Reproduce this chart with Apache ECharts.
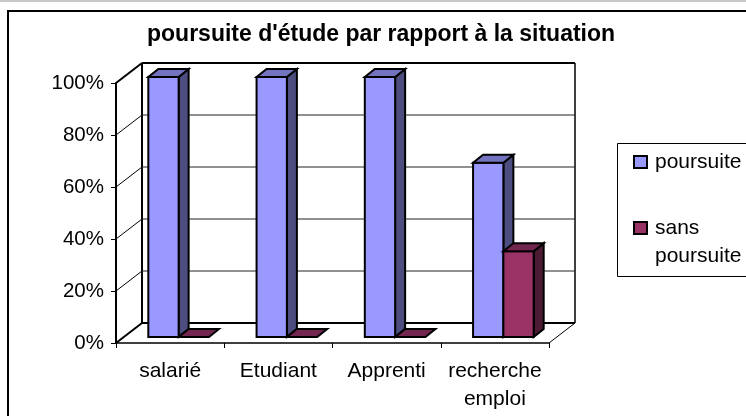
<!DOCTYPE html>
<html>
<head>
<meta charset="utf-8">
<style>
  html, body { margin: 0; padding: 0; background: #fff; }
  #main { width: 746px; height: 416px; }
</style>
</head>
<body>
<div id="main"></div>
<script src="https://cdn.jsdelivr.net/npm/echarts@6/dist/echarts.min.js"></script>
<script>
const categories = ['salarié', 'Etudiant', 'Apprenti', 'recherche\nemploi'];
const poursuite = [100, 100, 100, 67];
const sansPoursuite = [0, 0, 0, 33];
const yTicks = [0, 20, 40, 60, 80, 100];
const seriesNames = ['poursuite', 'sans poursuite'];
const titleText = "poursuite d'étude par rapport à la situation";

// depth of the fake 3D box and of the bars inside it
const wallDx = 26, wallDy = -20;
const barDx = 10, barDy = -8;
const barOffX = 9, barOffY = -6;
const font = '"Liberation Sans", Arial, sans-serif';

function poly(points, fill, lw) {
  return {
    type: 'polygon',
    shape: { points: points },
    style: { fill: fill, stroke: '#000', lineWidth: lw || 2 }
  };
}

function seg(x1, y1, x2, y2, color, lw) {
  return {
    type: 'line',
    shape: { x1: x1, y1: y1, x2: x2, y2: y2 },
    style: { stroke: color, lineWidth: lw, fill: null }
  };
}

// one 3D bar, idx 0 = left of the pair, 1 = right of the pair
function barRenderer(idx, front, side, top) {
  return function (params, api) {
    const cat = api.value(0);
    const base = api.coord([cat, 0]);
    const tip = api.coord([cat, api.value(1)]);
    const w = api.size([1, 0])[0] * 0.28;
    const x0 = base[0] - w + idx * w + barOffX - 0.5;
    const x1 = x0 + w;
    const y0 = base[1] + barOffY;
    const y1 = tip[1] + barOffY;
    const children = [];
    if (api.value(1) > 0) {
      children.push(poly([[x1, y0], [x1 + barDx, y0 + barDy], [x1 + barDx, y1 + barDy], [x1, y1]], side));
      children.push(poly([[x0, y0], [x1, y0], [x1, y1], [x0, y1]], front));
    }
    children.push(poly([[x0, y1], [x1, y1], [x1 + barDx, y1 + barDy], [x0 + barDx, y1 + barDy]], top));
    return { type: 'group', children: children };
  };
}

// side wall diagonals, back wall gridlines
function wallRenderer(params, api) {
  const left = params.coordSys.x;
  const right = left + params.coordSys.width;
  const p = api.coord([0, api.value(0)]);
  const v = api.value(0);
  const edge = v === 0 || v === 100;
  const children = [
    seg(left, p[1], left + wallDx, p[1] + wallDy, '#000', edge ? 2 : 1),
    seg(left + wallDx, p[1] + wallDy, right + wallDx, p[1] + wallDy, edge ? '#000' : '#222', edge ? 2 : 1)
  ];
  if (v === 0) {
    children.push(seg(right, p[1], right + wallDx, p[1] + wallDy, '#000', 1));
    children.push(seg(right + wallDx, p[1] + wallDy, right + wallDx, p[1] + wallDy - params.coordSys.height, '#000', 1.5));
    children.push(seg(left + wallDx, p[1] + wallDy, left + wallDx, p[1] + wallDy - params.coordSys.height, '#000', 2));
  }
  return { type: 'group', silent: true, children: children };
}

const chart = echarts.init(document.getElementById('main'), null, { renderer: 'canvas' });

const legendRich = { b: { fontFamily: font, fontSize: 21, color: '#000', lineHeight: 28 } };

chart.setOption({
  animation: false,
  backgroundColor: '#fff',
  title: {
    text: titleText,
    left: 147,
    top: 23,
    padding: 0,
    textStyle: { fontFamily: font, fontSize: 23, fontWeight: 'bold', color: '#000' }
  },
  legend: {
    orient: 'vertical',
    left: 633,
    top: 148,
    padding: 0,
    itemGap: 10,
    itemWidth: 13,
    itemHeight: 12,
    icon: 'rect',
    data: [
      { name: seriesNames[0], textStyle: { padding: [0, 0, 0, 3] } },
      // top padding pushes the wrapped text down so the icon lines up with "sans"
      { name: seriesNames[1], textStyle: { padding: [28, 0, 0, 3], rich: legendRich } }
    ],
    selectedMode: false,
    formatter: function (n) {
      return n === seriesNames[1] ? n.split(' ').map(function (s) { return '{b|' + s + '}'; }).join('\n') : n;
    },
    textStyle: { fontFamily: font, fontSize: 21, color: '#000', lineHeight: 28 }
  },
  grid: { left: 116, right: 197, top: 83, bottom: 73 },
  xAxis: {
    type: 'category',
    data: categories,
    axisLine: { lineStyle: { color: '#000', width: 1.5 } },
    axisTick: { show: true, length: 5, alignWithLabel: false, lineStyle: { color: '#000' } },
    axisLabel: { fontFamily: font, fontSize: 21, color: '#000', margin: 14, lineHeight: 28, interval: 0 }
  },
  yAxis: {
    type: 'value',
    min: 0,
    max: 100,
    interval: 20,
    axisLine: { show: true, lineStyle: { color: '#000', width: 2 } },
    axisTick: { show: true, length: 5, lineStyle: { color: '#000' } },
    axisLabel: { fontFamily: font, fontSize: 20.5, color: '#000', margin: 12, formatter: '{value}%' },
    splitLine: { show: false }
  },
  graphic: [
    { type: 'rect', z: 0, shape: { x: 0, y: 0, width: 746, height: 2 }, style: { fill: '#c8c8c8' } },
    { type: 'rect', z: 0, shape: { x: 8, y: 11, width: 800, height: 500 }, style: { fill: 'none', stroke: '#000', lineWidth: 2 } },
    { type: 'rect', z: 0, shape: { x: 617.5, y: 143.5, width: 200, height: 133 }, style: { fill: 'none', stroke: '#000', lineWidth: 1 } }
  ],
  series: [
    {
      type: 'custom',
      name: 'walls',
      data: yTicks.map(function (t) { return [t]; }),
      encode: { y: 0 },
      renderItem: wallRenderer,
      z: 1,
      silent: true
    },
    {
      type: 'custom',
      name: seriesNames[0],
      data: poursuite.map(function (v, i) { return [i, v]; }),
      itemStyle: { color: '#9999FF', borderColor: '#000', borderWidth: 2 },
      renderItem: barRenderer(0, '#9999FF', '#4D4D80', '#7373BF'),
      z: 3
    },
    {
      type: 'custom',
      name: seriesNames[1],
      data: sansPoursuite.map(function (v, i) { return [i, v]; }),
      itemStyle: { color: '#993366', borderColor: '#000', borderWidth: 2 },
      renderItem: barRenderer(1, '#993366', '#4D1A33', '#732650'),
      z: 3
    }
  ]
});
</script>
</body>
</html>
